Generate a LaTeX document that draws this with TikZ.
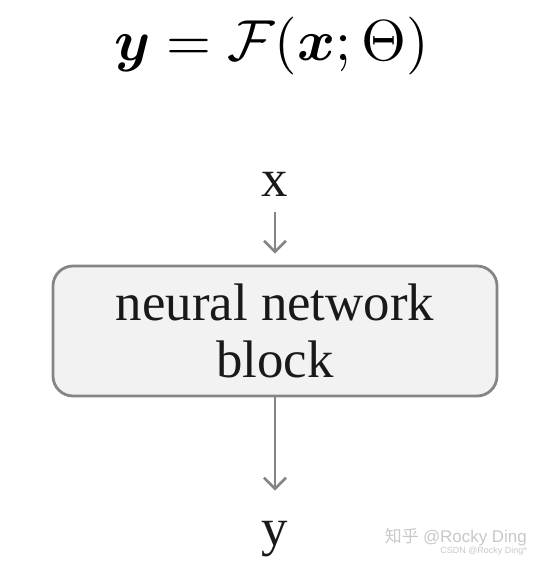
\documentclass[tikz,border=0pt]{standalone}
\usepackage{amsmath,amssymb}
\usepackage{fontspec}
\setmainfont{Liberation Serif}
\newfontfamily\wmfont{Liberation Sans}
\newfontfamily\cjk{Noto Sans CJK SC}
\usetikzlibrary{arrows.meta}
\definecolor{linegray}{HTML}{858585}
\definecolor{boxfill}{HTML}{F2F2F2}
\definecolor{wmgray}{HTML}{C8C8C8}
\tikzset{
  lbl/.style={font=\fontsize{53}{58}\selectfont, inner sep=0pt, text=black!90},
  blockbox/.style={draw=linegray, line width=2.8bp, fill=boxfill, rounded corners=20bp,
     minimum width=444bp, minimum height=130bp, align=center, inner sep=0pt,
     font=\fontsize{53}{58}\selectfont, text=black!90},
  arr/.style={draw=linegray, line width=2.6bp, -{Straight Barb[length=11bp,width=22bp,line width=2.6bp]}},
  wm/.style={text=wmgray, inner sep=0pt, anchor=east}
}
\begin{document}
\begin{tikzpicture}[x=1bp,y=-1bp]
\useasboundingbox (0,0) rectangle (539,561);
\node[scale=5.8, inner sep=0pt] (eq) at (271.5,46) {$\boldsymbol{y} = \mathcal{F}(\boldsymbol{x};\Theta)$};
\node[lbl, anchor=base] (xin) at (275,197) {x};
\node[blockbox] (block) at (275,331) {neural network\\block};
\node[lbl, anchor=base] (yout) at (275,545) {y};
\draw[arr, shorten <=15bp, shorten >=11bp] (xin.south) -- (block.north);
\draw[arr, shorten >=30bp] (block.south) -- (yout.north);
\node[wm, font=\fontsize{17}{17}\selectfont] (wm1) at (527,537) {{\cjk 知乎} {\wmfont @Rocky Ding}};
\node[wm, font=\wmfont\fontsize{9}{9}\selectfont] (wm2) at (527,551) {CSDN @Rocky Ding*};
\end{tikzpicture}
\end{document}
